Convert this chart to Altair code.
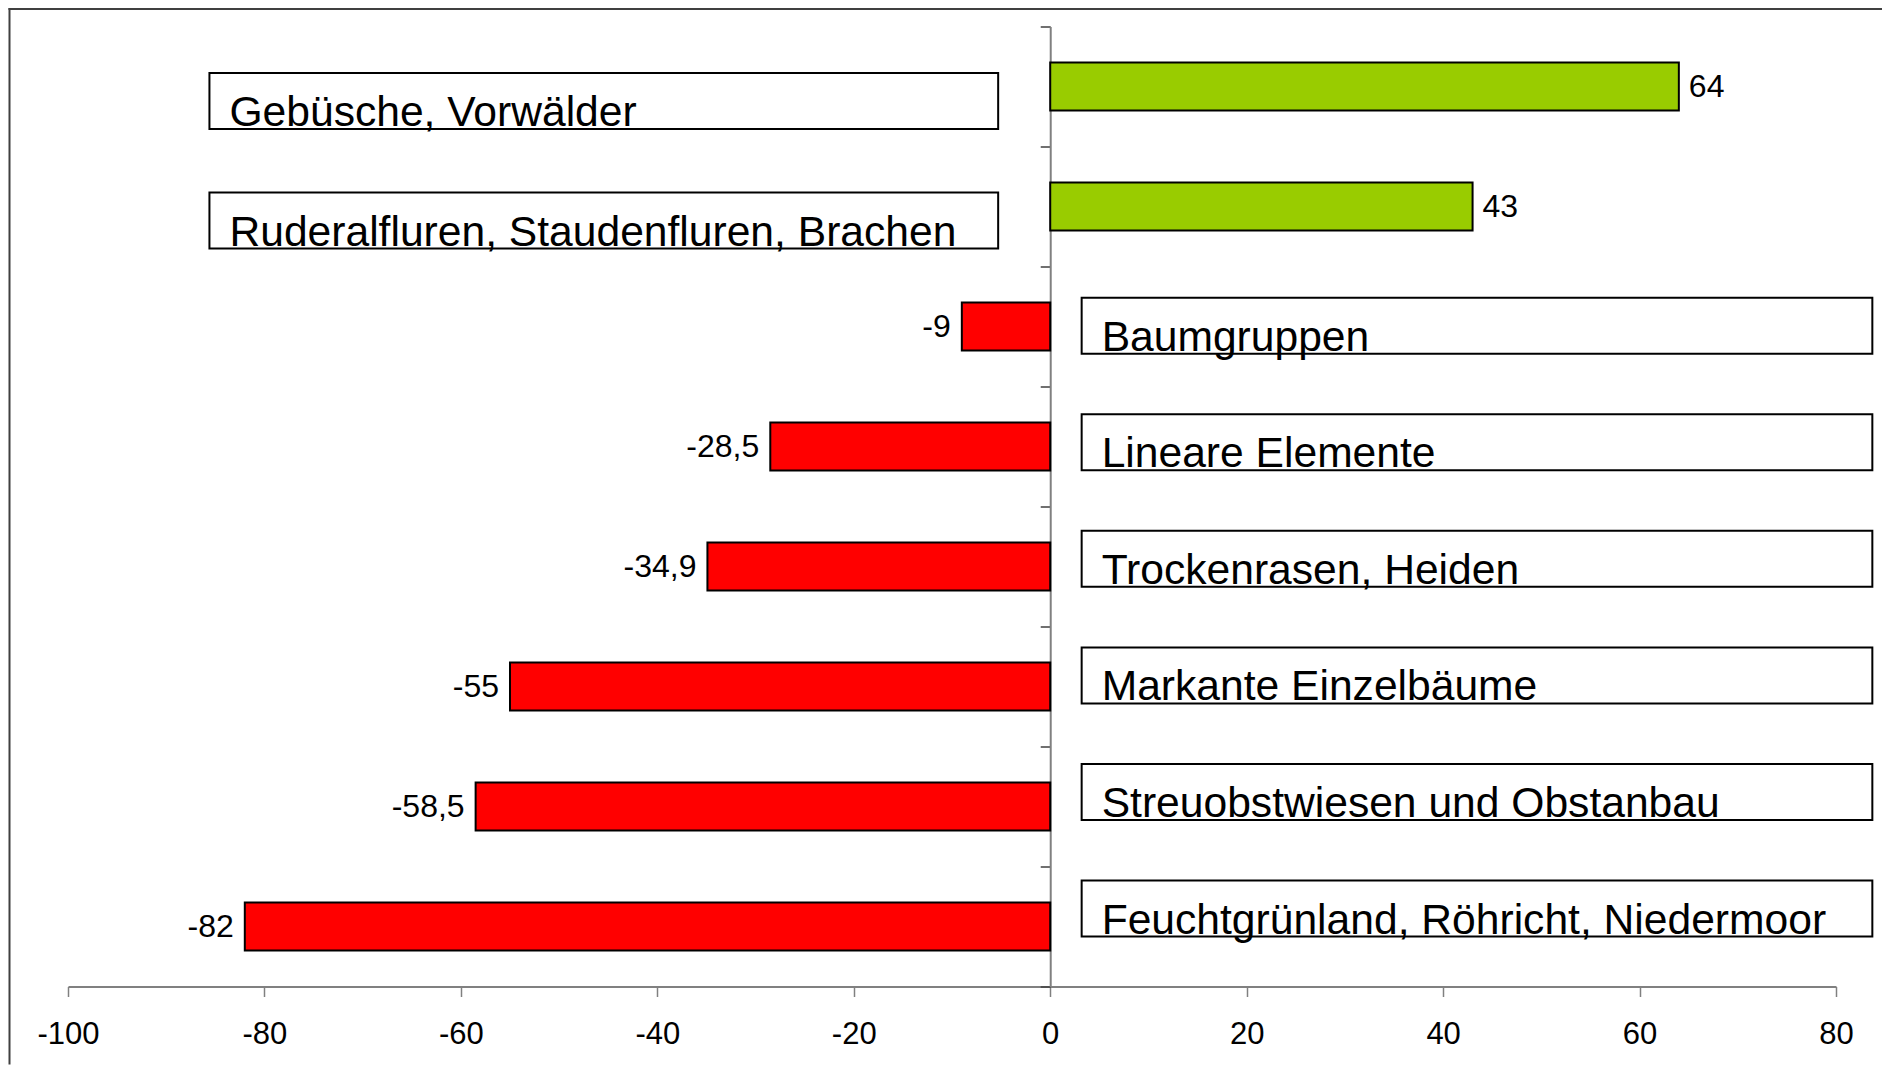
import altair as alt
import pandas as pd

# ---- data ----
categories = [
    "Gebüsche, Vorwälder",
    "Ruderalfluren, Staudenfluren, Brachen",
    "Baumgruppen",
    "Lineare Elemente",
    "Trockenrasen, Heiden",
    "Markante Einzelbäume",
    "Streuobstwiesen und Obstanbau",
    "Feuchtgrünland, Röhricht, Niedermoor",
]
values = [64, 43, -9, -28.5, -34.9, -55, -58.5, -82]
x_ticks = [-100, -80, -60, -40, -20, 0, 20, 40, 60, 80]

# ---- layout / style constants ----
FONT = "Liberation Sans"
GREEN = "#99CC00"
RED = "#FF0000"
AXIS_GREY = "#808080"
LEFT_BOX = (-85.6, -5.3)   # label boxes for positive rows (x data units)
RIGHT_BOX = (3.2, 83.7)    # label boxes for negative rows
LEFT_BOX_RANGE = [14.7, 253.9]     # vertical span used by the left label boxes
RIGHT_BOX_RANGE = [240.85, 940.4]  # vertical span used by the right label boxes

W, H = 1768, 960
PAD = {"left": 60, "top": 18.5, "right": 46, "bottom": 78}

df = pd.DataFrame({"cat": categories, "value": values})
df["label"] = [f"{v:g}".replace(".", ",") for v in values]
df["sign"] = ["pos" if v > 0 else "neg" for v in values]
df["box_x"] = [LEFT_BOX[0] if v > 0 else RIGHT_BOX[0] for v in values]
df["box_x2"] = [LEFT_BOX[1] if v > 0 else RIGHT_BOX[1] for v in values]

pos_cats = [c for c, v in zip(categories, values) if v > 0]
neg_cats = [c for c, v in zip(categories, values) if v < 0]

x_axis = alt.Axis(
    values=x_ticks, title=None, grid=False, labelFlush=False,
    labelExpr="'' + datum.value",
    labelFont=FONT, labelFontSize=31, labelColor="black", labelPadding=23,
    domainColor=AXIS_GREY, domainWidth=2,
    tickColor=AXIS_GREY, tickWidth=1.5, tickSize=10,
)
x_scale = alt.Scale(domain=[-100, 80], nice=False, zero=False)

zero_px = W * 100 / 180

y_bar = alt.Y(
    "cat:N", sort=categories,
    scale=alt.Scale(paddingInner=0, paddingOuter=0),
    axis=alt.Axis(
        offset=-zero_px, labels=False, title=None, grid=False,
        tickBand="extent", tickSize=10, tickColor="#404040", tickWidth=1.5,
        domainColor=AXIS_GREY, domainWidth=2,
    ),
)

base = alt.Chart(df)

bars = base.mark_bar(stroke="black", strokeWidth=2, height={"band": 0.4}).encode(
    x=alt.X("value:Q", scale=x_scale, axis=x_axis),
    y=y_bar,
    color=alt.Color("sign:N", scale=alt.Scale(domain=["pos", "neg"], range=[GREEN, RED]), legend=None),
)

pos_labels = base.transform_filter("datum.value > 0").mark_text(
    align="left", baseline="middle", dx=10, fontSize=32, font=FONT, color="black"
).encode(x=alt.X("value:Q", scale=x_scale, axis=x_axis), y=y_bar, text="label:N")

neg_labels = base.transform_filter("datum.value < 0").mark_text(
    align="right", baseline="middle", dx=-11, fontSize=32, font=FONT, color="black"
).encode(x=alt.X("value:Q", scale=x_scale, axis=x_axis), y=y_bar, text="label:N")

bar_group = alt.layer(bars, pos_labels, neg_labels)


def box_group(filter_expr, cats, rng):
    step = (rng[1] - rng[0]) / len(cats)
    p_inner = 1 - 56 / step
    y_box = alt.Y(
        "cat:N", sort=cats,
        scale=alt.Scale(range=rng, paddingInner=p_inner, paddingOuter=p_inner / 2),
        axis=None,
    )
    src = base.transform_filter(filter_expr)
    rect = src.mark_rect(fill="white", stroke="black", strokeWidth=2, clip=False).encode(
        x=alt.X("box_x:Q", scale=x_scale, axis=x_axis),
        x2="box_x2:Q",
        y=y_box,
    )
    txt = src.mark_text(
        align="left", baseline="alphabetic", dx=20, dy=25,
        fontSize=42.6, font=FONT, color="black", clip=False,
    ).encode(
        x=alt.X("box_x:Q", scale=x_scale, axis=x_axis),
        y=y_box,
        text="cat:N",
    )
    return alt.layer(rect, txt)


left_boxes = box_group("datum.value > 0", pos_cats, LEFT_BOX_RANGE)
right_boxes = box_group("datum.value < 0", neg_cats, RIGHT_BOX_RANGE)

frame_df = pd.DataFrame({"k": [0]})
frame_left = alt.Chart(frame_df).mark_rule(color="#404040", strokeWidth=2, clip=False).encode(
    x=alt.value(-PAD["left"] + 1.5), y=alt.value(-PAD["top"]), y2=alt.value(H + PAD["bottom"])
)
frame_top = alt.Chart(frame_df).mark_rule(color="#404040", strokeWidth=2, clip=False).encode(
    y=alt.value(-PAD["top"] + 1), x=alt.value(-PAD["left"] + 0.5), x2=alt.value(W + PAD["right"])
)

chart = alt.layer(bar_group, left_boxes, right_boxes, frame_left, frame_top).resolve_scale(
    y="independent"
).properties(
    width=W, height=H,
    autosize=alt.AutoSizeParams(type="none"),
    padding=PAD,
    background="white",
).configure_view(stroke=None)

chart.save("out.html", embed_options={"renderer": "svg", "actions": False})
